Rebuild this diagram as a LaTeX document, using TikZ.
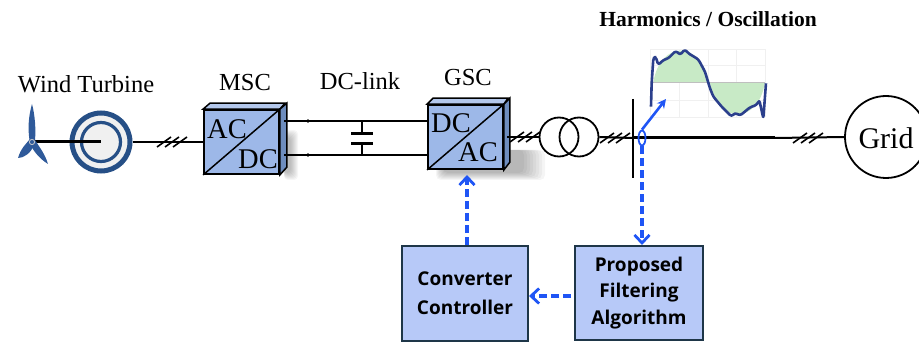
\documentclass[tikz,border=0pt]{standalone}
\usepackage{fontspec}
\setmainfont{Liberation Serif}
\newfontfamily\boxfont{Open Sans}
\usetikzlibrary{arrows.meta,shapes.geometric,calc}
\definecolor{convfill}{HTML}{9DB8E8}
\definecolor{convtop}{HTML}{B4C8EC}
\definecolor{convside}{HTML}{6E8DBE}
\definecolor{ctrlfill}{HTML}{B7C9F8}
\definecolor{ctrledge}{HTML}{1E3648}
\definecolor{sigblue}{HTML}{1F55F5}
\definecolor{turbblue}{HTML}{2F5A9A}
\definecolor{ringblue}{HTML}{264F86}
\definecolor{wavegreen}{HTML}{C8EAC6}
\definecolor{wavenavy}{HTML}{2B3F8C}
\definecolor{gridgrey}{HTML}{F0F0F0}
\tikzset{
  power/.style={draw=black,line width=2pt},
  busline/.style={draw=black,line width=3pt},
  lbl/.style={font=\fontsize{24.5}{27}\selectfont,inner sep=0pt},
  conv/.style={draw=black,line width=1.8pt,fill=convfill,minimum width=75pt,minimum height=64pt,inner sep=0pt},
  convtxt/.style={font=\fontsize{28.5}{30}\selectfont,inner sep=0pt},
  ctrl/.style={draw=ctrledge,line width=2pt,fill=ctrlfill,align=center,inner sep=0pt,
    font=\boxfont\bfseries\fontsize{19}{26.5}\selectfont},
  signal/.style={draw=sigblue,line width=3.4pt,dash pattern=on 8pt off 4pt,-{Straight Barb[length=8pt,width=15pt,line width=2.8pt]}},
  xcoil/.style={draw=black,line width=1.8pt,circle,inner sep=0pt,minimum size=39pt},
}
\newcommand{\threeticks}[2]{%
  \foreach \d in {-8,0,8}{\draw[black,line width=1.6pt] ($(#1,#2)+(\d-7,5)$) -- ($(#1,#2)+(\d+7,-5)$);}%
}
\begin{document}
\begin{tikzpicture}[x=1pt,y=-1pt]
\useasboundingbox (0,0) rectangle (919,342);
\clip (0,0) rectangle (919,342);
% soft shadows
\foreach \g in {0,1,...,7}{
  \fill[black,opacity=.035,rounded corners=4pt] (284,130+\g) rectangle (298-\g,180-\g);
  \fill[black,opacity=.04,rounded corners=5pt] (436+\g,150) rectangle (545-3*\g,180-\g);
}
% labels
\node[lbl] (lwt) at (86,84) {Wind Turbine};
\node[lbl] (lmsc) at (245,83) {MSC};
\node[lbl] (ldc) at (360,81) {DC-link};
\node[lbl] (lgsc) at (468,78) {GSC};
\node[inner sep=0pt,font=\bfseries\fontsize{21.5}{23}\selectfont] (ltitle) at (708,19) {Harmonics / Oscillation};
% converters
\node[conv] (msc) at (241.5,142) {};
\fill[convtop,draw=black,line width=1.5pt] (msc.north west) -- ++(7,-6) -- ++(75,0) -- (msc.north east) -- cycle;
\fill[convside,draw=black,line width=1.5pt] (msc.north east) -- ++(7,-6) -- ++(0,64) -- (msc.south east) -- cycle;
\draw[black,line width=1.5pt] (msc.south west) -- (msc.north east);
\node[convtxt] (mscac) at (227,129) {AC};
\node[convtxt] (mscdc) at (258,159) {DC};
\node[conv] (gsc) at (465.5,137) {};
\fill[convtop,draw=black,line width=1.5pt] (gsc.north west) -- ++(6,-6) -- ++(75,0) -- (gsc.north east) -- cycle;
\fill[convside,draw=black,line width=1.5pt] (gsc.north east) -- ++(6,-6) -- ++(0,64) -- (gsc.south east) -- cycle;
\draw[black,line width=1.5pt] (gsc.south west) -- (gsc.north east);
\node[convtxt] (gscdc) at (451,123) {DC};
\node[convtxt] (gscac) at (478,152) {AC};
% DC link
\coordinate (a1) at (284,121); \coordinate (a2) at (284,155);
\draw[power] (a1) -- (gsc.west |- a1);
\draw[power] (a2) -- (gsc.west |- a2);
\fill (308,121) circle (1.8pt); \fill (308,155) circle (1.8pt);
\coordinate (c1) at (362,134); \coordinate (c2) at (362,144);
\draw[power] (362,121) -- (c1);
\draw[power] (362,155) -- (c2);
\draw[black,line width=3pt] (351,134) -- (373,134);
\draw[black,line width=3pt] (351,144) -- (373,144);
% generator and turbine
\fill[black!6] (101,142) circle (30pt);
\node[circle,draw=ringblue,line width=5pt,minimum size=58pt,inner sep=0pt] (gen) at (101,142) {};
\node[circle,draw=ringblue,line width=3.2pt,minimum size=39pt,inner sep=0pt] (geni) at (101,142) {};
\coordinate (hub) at (32,142);
\draw[busline] (hub) -- (gen.center);
\draw[power] (gen.east) -- (msc.west);
\threeticks{172}{142}
\fill[turbblue] (32,104) .. controls (28,118) and (28,130) .. (29.5,140) -- (35,140) .. controls (36,130) and (35,115) .. cycle;
\fill[turbblue] (18,158) .. controls (21,148) and (26,144) .. (30,139) -- (34,145) .. controls (31,153) and (24,158) .. cycle;
\fill[turbblue] (48,164) .. controls (45,154) and (40,148) .. (35,140) -- (30,144) .. controls (34,152) and (40,159) .. cycle;
\draw[white!80!black,line width=.8pt,fill=turbblue] (hub) circle (2.6pt);
% grid side
\node[xcoil] (t1) at (559,137) {};
\node[xcoil] (t2) at (579,137) {};
\draw[power] (507,137) -- (t1.west);
\threeticks{525}{137}
\coordinate (bus1) at (633,99); \coordinate (bus2) at (633,178);
\draw[black,line width=2.4pt] (bus1) -- (bus2);
\node[circle,draw=black,line width=1.8pt,minimum size=82pt,inner sep=0pt] (grid) at (886,137) {};
\node[inner sep=0pt,font=\fontsize{30}{32}\selectfont] (gridt) at (886,138) {Grid};
\coordinate (j) at (775,138);
\draw[power] (t2.east) -- (633,138);
\threeticks{615}{138}
\draw[busline] (633,138) -- (j);
\draw[power] (j) -- (grid.west);
\threeticks{808}{138}
% waveform
\begin{scope}[shift={(590,0)},x=0.3333pt,y=-0.3333pt]
  \foreach \gx in {182,268,355,440,525}{\draw[gridgrey,line width=.7pt] (\gx,148) -- (\gx,352);}
  \foreach \gy in {148,197,300,352}{\draw[gridgrey,line width=.7pt] (182,\gy) -- (525,\gy);}
  \fill[wavegreen] (190,247) .. controls (210,120) and (335,120) .. (355,247) -- cycle;
  \fill[wavegreen] (360,247) .. controls (380,375) and (505,375) .. (525,247) -- cycle;
  \draw[black!25,line width=1pt] (190,247) -- (525,247);
  \draw[wavenavy,line width=2.6pt,line join=round,rounded corners=2.5pt]
    (183,320) -- (185,250) -- (190,175) -- (197,170) -- (205,195) -- (220,180) -- (235,175) -- (258,152) -- (270,165) -- (285,148) -- (295,160) -- (325,178) -- (345,215) -- (360,265) -- (370,290) -- (395,320) -- (425,350) -- (435,338) -- (450,347) -- (480,322) -- (500,315) -- (508,300) -- (520,355) -- (528,250);
\end{scope}
% control boxes
\node[ctrl,minimum width=126pt,minimum height=95pt,font=\boxfont\bfseries\fontsize{19}{29}\selectfont] (cc) at (465,293.5) {Converter\\Controller};
\node[ctrl,minimum width=128pt,minimum height=94pt] (pf) at (639,293) {Proposed\\Filtering\\Algorithm};
% measuring point and signals
\node[ellipse,draw=sigblue,line width=1.8pt,minimum width=7pt,minimum height=15pt,inner sep=0pt] (ct) at (642,138) {};
\coordinate (wavept) at (666,99);
\draw[sigblue,line width=2.6pt,-{Stealth[length=9pt,width=9pt]}] (ct.north) -- (wavept);
\draw[signal] (ct.south) -- (pf.north -| ct);
\coordinate (gscin) at (467,175);
\draw[signal] (cc.north -| gscin) -- (gscin);
\draw[signal] (571,296) -- (cc.east |- 0,296);
\end{tikzpicture}
\end{document}
